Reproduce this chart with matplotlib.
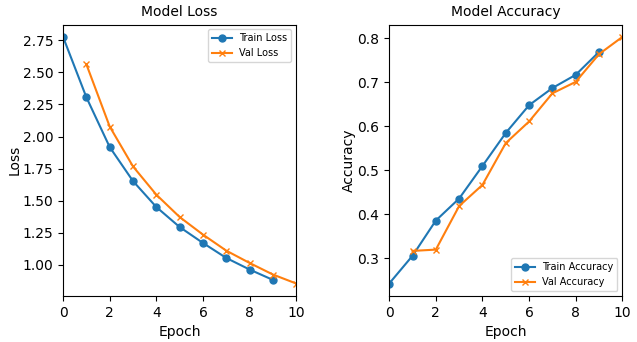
import matplotlib.pyplot as plt

# Training history per epoch
train_epochs = list(range(0, 10))
val_epochs = list(range(1, 11))

train_loss = [2.776, 2.306, 1.918, 1.653, 1.451, 1.295, 1.171, 1.054, 0.964, 0.883]
val_loss = [2.563, 2.078, 1.767, 1.547, 1.373, 1.236, 1.111, 1.015, 0.925, 0.855]

train_acc = [0.243, 0.306, 0.386, 0.436, 0.510, 0.585, 0.648, 0.687, 0.717, 0.769]
val_acc = [0.317, 0.320, 0.419, 0.467, 0.562, 0.611, 0.675, 0.701, 0.764, 0.803]

fig = plt.figure(figsize=(6.37, 3.42), dpi=100)
ax1 = fig.add_axes([0.099, 0.135, 0.366, 0.793])
ax2 = fig.add_axes([0.611, 0.135, 0.366, 0.793])

fs = 10

# Loss curves
ax1.plot(train_epochs, train_loss, marker='o', markersize=5, label='Train Loss')
ax1.plot(val_epochs, val_loss, marker='x', markersize=5, label='Val Loss')
ax1.set_title('Model Loss', fontsize=fs)
ax1.set_xlabel('Epoch', fontsize=fs)
ax1.set_ylabel('Loss', fontsize=fs, labelpad=1)
ax1.set_xlim(0, 10)
ax1.tick_params(labelsize=fs)
ax1.legend(fontsize=7, loc='upper right')

# Accuracy curves
ax2.plot(train_epochs, train_acc, marker='o', markersize=5, label='Train Accuracy')
ax2.plot(val_epochs, val_acc, marker='x', markersize=5, label='Val Accuracy')
ax2.set_title('Model Accuracy', fontsize=fs)
ax2.set_xlabel('Epoch', fontsize=fs)
ax2.set_ylabel('Accuracy', fontsize=fs, labelpad=1)
ax2.set_xlim(0, 10)
ax2.tick_params(labelsize=fs)
ax2.legend(fontsize=7, loc='lower right')

fig.savefig('out.png', dpi=100)
